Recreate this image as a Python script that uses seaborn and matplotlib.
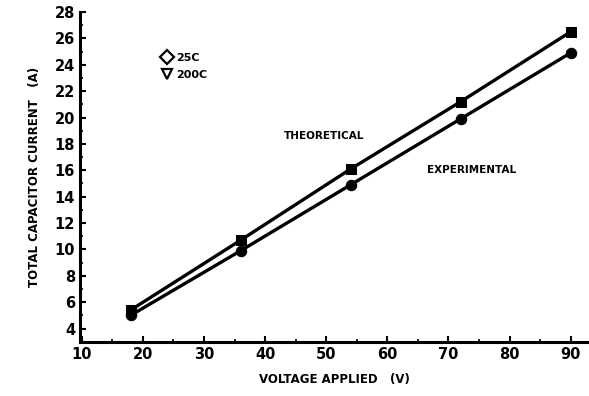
import matplotlib
matplotlib.use("Agg")
import matplotlib.pyplot as plt
import seaborn as sns
import pandas as pd
from matplotlib.lines import Line2D

voltage = [18, 36, 54, 72, 90]
theoretical = [5.4, 10.7, 16.1, 21.2, 26.5]
experimental = [5.0, 9.9, 14.9, 19.9, 24.9]
x_ticks = [10, 20, 30, 40, 50, 60, 70, 80, 90]
y_ticks = [4, 6, 8, 10, 12, 14, 16, 18, 20, 22, 24, 26, 28]

df = pd.DataFrame({
    "V": voltage * 2,
    "I": theoretical + experimental,
    "series": ["THEORETICAL"] * 5 + ["EXPERIMENTAL"] * 5,
})

sns.set_style("ticks")
plt.rcParams["font.family"] = ["DejaVu Sans"]
plt.rcParams["font.weight"] = "bold"
plt.rcParams["text.color"] = "black"
plt.rcParams["axes.labelcolor"] = "black"
plt.rcParams["xtick.color"] = "black"
plt.rcParams["ytick.color"] = "black"
plt.rcParams["axes.edgecolor"] = "black"

fig = plt.figure(figsize=(5.89, 3.96), dpi=100)
ax = fig.add_axes([80 / 589, 54.3 / 396, 509 / 589, (341.7 - 12) / 396])

sns.lineplot(data=df, x="V", y="I", hue="series", style="series",
             palette=["black", "black"], markers=["s", "o"], dashes=False,
             markersize=7.5, markeredgecolor="black", linewidth=2.4,
             legend=False, ax=ax)

ax.set_xlim(9.7, 93)
ax.set_ylim(3, 28)
ax.set_xticks(x_ticks)
ax.set_yticks(y_ticks)
ax.set_xticks(range(15, 95, 10), minor=True)
ax.set_yticks(range(3, 28, 2), minor=True)
ax.tick_params(axis="both", which="major", direction="in", length=4, width=1.5,
               labelsize=10.5, colors="black")
ax.tick_params(axis="both", which="minor", direction="in", length=2, width=1.2,
               colors="black")
for lbl in ax.get_xticklabels() + ax.get_yticklabels():
    lbl.set_fontweight("bold")
sns.despine(ax=ax)
for s in ["left", "bottom"]:
    ax.spines[s].set_linewidth(2.2)
    ax.spines[s].set_color("black")

ax.set_xlabel("VOLTAGE APPLIED   (V)", fontsize=8.5, fontweight="bold", labelpad=8,
              color="black")
ax.set_ylabel("TOTAL CAPACITOR CURRENT   (A)", fontsize=8.5, fontweight="bold",
              labelpad=10, color="black")

ax.text(43.0, 18.6, "THEORETICAL", fontsize=7.5, fontweight="bold", va="center",
        color="black")
ax.text(66.5, 16.0, "EXPERIMENTAL", fontsize=7.5, fontweight="bold", va="center",
        color="black")

handles = [
    Line2D([], [], linestyle="none", marker="D", markerfacecolor="white",
           markeredgecolor="black", markeredgewidth=1.6, markersize=7),
    Line2D([], [], linestyle="none", marker="v", markerfacecolor="white",
           markeredgecolor="black", markeredgewidth=1.6, markersize=7),
]
leg = ax.legend(handles, ["25C", "200C"], loc="upper left",
                bbox_to_anchor=(0.14, 0.905), frameon=False, handletextpad=0.3,
                labelspacing=0.6, handlelength=1.0,
                prop={"size": 8, "weight": "bold"})
for t in leg.get_texts():
    t.set_color("black")

fig.savefig("out.png", dpi=100)
